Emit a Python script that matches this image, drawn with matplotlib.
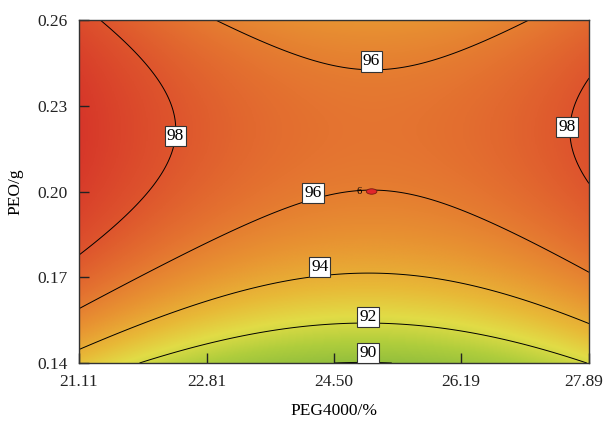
import numpy as np
import matplotlib
matplotlib.use('Agg')
import matplotlib.pyplot as plt
import matplotlib.transforms as mtransforms
from matplotlib.colors import LinearSegmentedColormap
from matplotlib.patches import Ellipse

plt.rcParams['font.family'] = ['Liberation Serif', 'DejaVu Serif']

# оси
x_ticks = [21.11, 22.81, 24.50, 26.19, 27.89]
y_ticks = [0.14, 0.17, 0.20, 0.23, 0.26]
levels = [90, 92, 94, 96, 98]

# точки контуров (PEG4000 %, PEO g)
c98_left_x = [21.39, 21.96, 22.28, 22.39, 22.35, 22.19, 21.89, 21.52, 21.12]
c98_left_y = [0.2597, 0.246, 0.2345, 0.224, 0.2145, 0.205, 0.197, 0.1855, 0.1785]
c98_right_x = [27.88, 27.66, 27.61, 27.70, 27.87]
c98_right_y = [0.2397, 0.2285, 0.218, 0.210, 0.2023]
c96_top_x = [22.94, 24.01, 24.49, 25.00, 25.55, 26.27, 27.13]
c96_top_y = [0.2597, 0.2485, 0.2443, 0.243, 0.2443, 0.2506, 0.2597]
c96_low_x = [21.11, 21.96, 22.81, 24.01, 24.49, 25.00, 25.20, 26.13, 26.52, 26.71, 27.89]
c96_low_y = [0.1592, 0.169, 0.182, 0.196, 0.1995, 0.1999, 0.1998, 0.1935, 0.197, 0.1876, 0.1722]
c94_x = [21.11, 22.28, 23.52, 24.05, 24.94, 25.82, 26.71, 27.87]
c94_y = [0.1446, 0.1585, 0.1666, 0.1697, 0.1718, 0.169, 0.1631, 0.154]
c92_x = [21.95, 22.81, 23.61, 24.05, 24.94, 25.82, 26.71, 27.87]
c92_y = [0.140, 0.147, 0.1509, 0.1526, 0.154, 0.1522, 0.148, 0.1404]
c90_x = [24.62, 25.22]
c90_y = [0.1403, 0.1403]

# центральная точка плана
center_x, center_y, center_n = 25.00, 0.20, 6

pts = [(c98_left_x, c98_left_y, 98), (c98_right_x, c98_right_y, 98),
       (c96_top_x, c96_top_y, 96), (c96_low_x, c96_low_y, 96),
       (c94_x, c94_y, 94), (c92_x, c92_y, 92), (c90_x, c90_y, 90)]

def terms(x, y):
    A = (np.asarray(x) - 24.5) / 3.39
    B = (np.asarray(y) - 0.2) / 0.06
    return np.stack([np.ones_like(A), A, B, A*A, A*B, B*B,
                     A**3, A*A*B, A*B*B, B**3], axis=-1)

X = np.concatenate([terms(px, py) for px, py, _ in pts])
z = np.concatenate([np.full(len(px), lv, float) for px, _, lv in pts])
coef = np.linalg.lstsq(X, z, rcond=None)[0]

gx = np.linspace(x_ticks[0], x_ticks[-1], 400)
gy = np.linspace(y_ticks[0], y_ticks[-1], 400)
GX, GY = np.meshgrid(gx, gy)
GZ = terms(GX, GY) @ coef

stops = [(89.5, '#87b93c'), (91.0, '#afcd3c'), (92.3, '#e1dc46'),
         (93.5, '#e8b937'), (95.0, '#e89432'), (96.5, '#e47330'),
         (98.0, '#de552d'), (100.5, '#d42d28')]
lo, hi = stops[0][0], stops[-1][0]
cmap = LinearSegmentedColormap.from_list(
    'de', [((v - lo) / (hi - lo), c) for v, c in stops])

fig = plt.figure(figsize=(6.06, 4.26), dpi=100)
ax = fig.add_axes([79/606, 1 - 363/426, 510/606, 343/426])

ax.imshow(GZ, origin='lower', aspect='auto', cmap=cmap, vmin=lo, vmax=hi,
          extent=[gx[0], gx[-1], gy[0], gy[-1]], interpolation='bilinear')
ax.contour(GX, GY, GZ, levels=levels, colors='black', linewidths=0.7)

# подписи изолиний
lab_pos = [(25.00, 0.2455, 96), (22.39, 0.2195, 98), (27.60, 0.2225, 98),
           (24.22, 0.1995, 96), (24.31, 0.1735, 94), (24.95, 0.1560, 92),
           (24.95, 0.1435, 90)]
for lx, ly, lv in lab_pos:
    ax.text(lx, ly, str(lv), ha='center', va='center', fontsize=12.5,
            bbox=dict(facecolor='white', edgecolor='#333333', linewidth=0.8,
                      boxstyle='square,pad=0.12'), zorder=5)

ax.add_patch(Ellipse((center_x, center_y), 0.14, 0.0019, facecolor='#e0262b',
                     edgecolor='#7a1a10', linewidth=0.6, zorder=6))
ax.text(center_x - 0.16, center_y, str(center_n), fontsize=7.5,
        ha='center', va='center', zorder=6)

ax.set_xlim(x_ticks[0], x_ticks[-1])
ax.set_ylim(y_ticks[0], y_ticks[-1])
ax.set_xticks(x_ticks)
ax.set_xticklabels(['%.2f' % v for v in x_ticks])
ax.set_yticks(y_ticks)
ax.set_yticklabels(['%.2f' % v for v in y_ticks])
ax.tick_params(direction='in', length=7, width=1, labelsize=12.5, pad=8,
               colors='#222222')
for s in ax.spines.values():
    s.set_color('#333333')
    s.set_linewidth(1.0)
ax.set_xlabel('PEG4000/%', fontsize=12.5, labelpad=9)
ax.set_ylabel('PEO/g', fontsize=12.5, labelpad=10)

# последняя подпись по x сдвинута влево, чтобы не обрезалась
last = ax.get_xticklabels()[-1]
last.set_transform(last.get_transform() +
                   mtransforms.ScaledTranslation(-0.05, 0, fig.dpi_scale_trans))

fig.savefig('out.png', dpi=100)
